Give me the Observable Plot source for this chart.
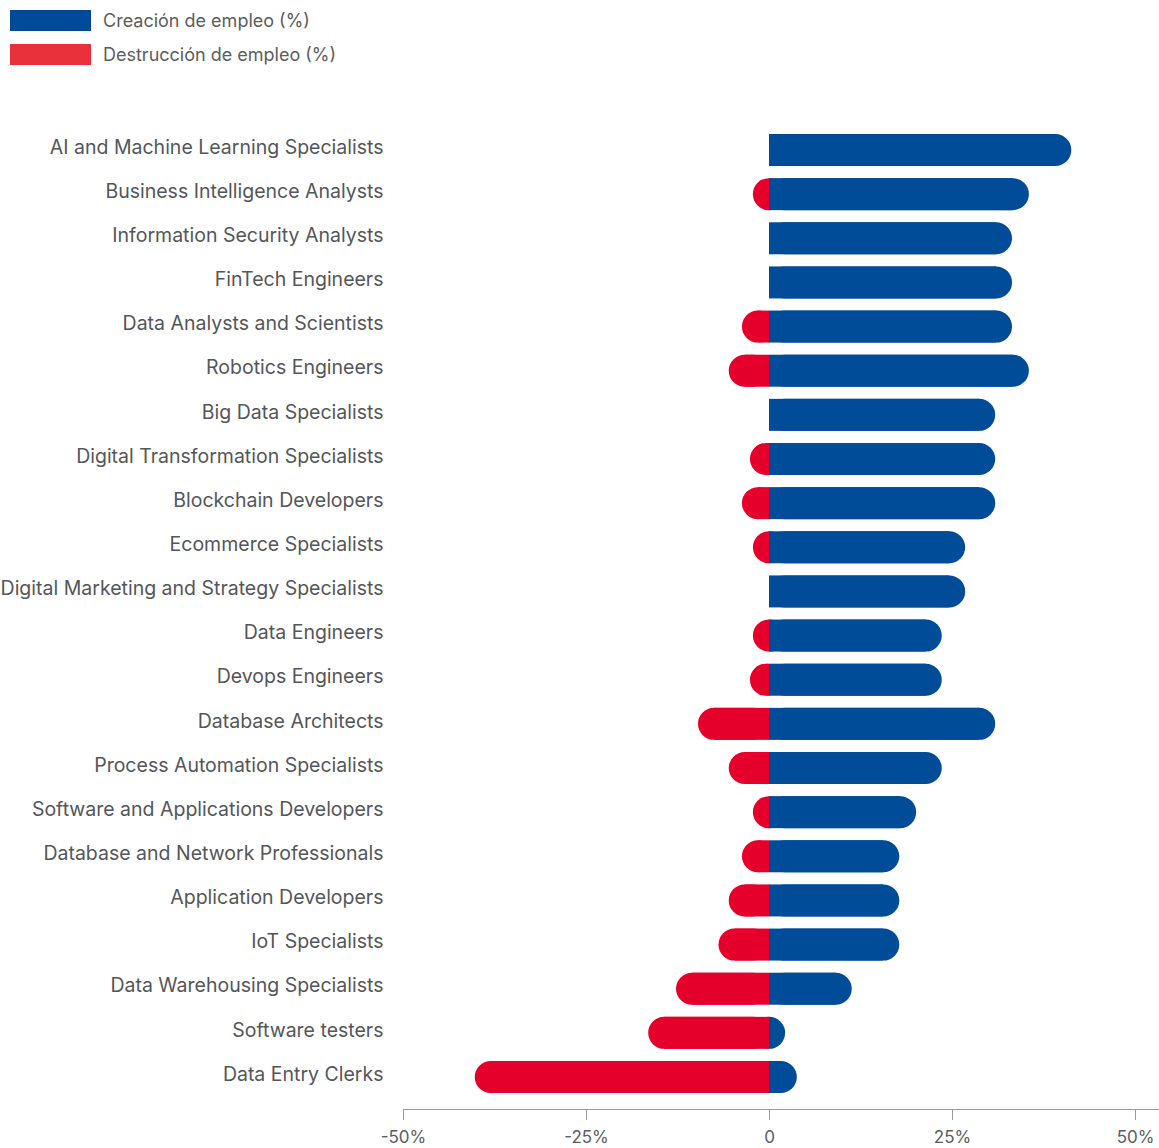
<!DOCTYPE html>
<html>
<head>
<meta charset="utf-8">
<script src="https://cdn.jsdelivr.net/npm/d3@7"></script>
<script src="https://cdn.jsdelivr.net/npm/@observablehq/plot@0.6"></script>
<style>
  html, body { margin: 0; padding: 0; background: #fff; }
  body { width: 1159px; height: 1148px; overflow: hidden; font-family: Inter, Roboto, sans-serif; }
  #legend { height: 100px; position: relative; }
  .item { position: absolute; left: 10px; display: flex; align-items: center; font-size: 18px; color: #5a5d61; }
  .sw { width: 81px; height: 21px; margin-right: 12px; }
  #chart svg { display: block; }
  #chart svg text { font-variant-numeric: normal; }
</style>
</head>
<body>
<div id="legend">
  <div class="item" style="top:10px"><div class="sw" style="background:#004a98"></div><span>Creación de empleo (%)</span></div>
  <div class="item" style="top:44px"><div class="sw" style="background:#e8313a"></div><span>Destrucción de empleo (%)</span></div>
</div>
<div id="chart"></div>
<script>
const categories = [
  "AI and Machine Learning Specialists",
  "Business Intelligence Analysts",
  "Information Security Analysts",
  "FinTech Engineers",
  "Data Analysts and Scientists",
  "Robotics Engineers",
  "Big Data Specialists",
  "Digital Transformation Specialists",
  "Blockchain Developers",
  "Ecommerce Specialists",
  "Digital Marketing and Strategy Specialists",
  "Data Engineers",
  "Devops Engineers",
  "Database Architects",
  "Process Automation Specialists",
  "Software and Applications Developers",
  "Database and Network Professionals",
  "Application Developers",
  "IoT Specialists",
  "Data Warehousing Specialists",
  "Software testers",
  "Data Entry Clerks"
];
const creation =    [41.3, 35.5, 33.2, 33.2, 33.2, 35.5, 30.9, 30.9, 30.9, 26.8, 26.8, 23.6, 23.6, 30.9, 23.6, 20.1, 17.8, 17.8, 17.8, 11.3, 2.2, 3.8];
const destruction = [0, 2.2, 0, 0, 3.7, 5.5, 0, 2.6, 3.7, 2.2, 0, 2.2, 2.6, 9.7, 5.5, 2.2, 3.7, 5.5, 6.9, 12.7, 16.5, 40.2];
const xTicks = [-50, -25, 0, 25, 50];

const blue = "#004c99";
const red = "#e4002b";
const pxPerUnit = (1135 - 403) / 100;
const rUnits = 16 / pxPerUnit; // corner radius in data units

const rows = categories.map((c, i) => ({cat: c, up: creation[i], down: -destruction[i]}));

// rounded piece: spans at least a full circle so the outer end is a semicircle
function roundPiece(v) {
  const a = Math.abs(v), s = Math.sign(v);
  return {x1: a >= 2 * rUnits ? 0 : s * (a - 2 * rUnits), x2: v};
}
function squarePiece(v) {
  const a = Math.abs(v), s = Math.sign(v);
  return {x1: 0, x2: a > rUnits ? s * (a - rUnits) : 0};
}
const upRound = rows.filter(d => d.up > 0).map(d => ({cat: d.cat, ...roundPiece(d.up)}));
const downRound = rows.filter(d => d.down < 0).map(d => ({cat: d.cat, ...roundPiece(d.down)}));
const upSquare = rows.filter(d => d.up > 0).map(d => ({cat: d.cat, ...squarePiece(d.up)}));
const downSquare = rows.filter(d => d.down < 0).map(d => ({cat: d.cat, ...squarePiece(d.down)}));

const n = categories.length;
const step = (977 - 50) / (n - 1);
const pad = 0.275;
const off = step * (0.5 + pad / 2);

const chart = Plot.plot({
  width: 1159,
  height: 1048,
  marginLeft: 403,
  marginRight: 0,
  marginTop: 0,
  marginBottom: 39,
  style: {fontFamily: "Inter, Roboto, sans-serif", color: "#53565a", background: "#fff"},
  x: {domain: [-50, 50], range: [403, 1135], ticks: xTicks, tickFormat: d => d === 0 ? "0" : d + "%", label: null},
  y: {domain: categories, range: [50 - off, 977 + off], padding: pad, round: false, label: null},
  marks: [
    Plot.barX(upRound, {y: "cat", x1: "x1", x2: "x2", fill: blue, rx: 16}),
    Plot.barX(downRound, {y: "cat", x1: "x1", x2: "x2", fill: red, rx: 16}),
    Plot.barX(upSquare.filter(d => d.x2 !== 0), {y: "cat", x1: "x1", x2: "x2", fill: blue}),
    Plot.barX(downSquare.filter(d => d.x2 !== 0), {y: "cat", x1: "x1", x2: "x2", fill: red}),
    Plot.frame({anchor: "bottom", stroke: "#9a9a9a", strokeOpacity: 1}),
    Plot.axisX({ticks: xTicks, tickFormat: d => d === 0 ? "0" : d + "%", tickSize: 11, tickPadding: 10, fontSize: 17, fontVariant: "normal", stroke: "#9a9a9a", color: "#5a5d61", label: null}),
    Plot.axisY({tickSize: 0, tickPadding: 20, fontSize: 19.5, dy: -3, label: null, color: "#53565a"})
  ]
});
document.getElementById("chart").appendChild(chart);
</script>
</body>
</html>
